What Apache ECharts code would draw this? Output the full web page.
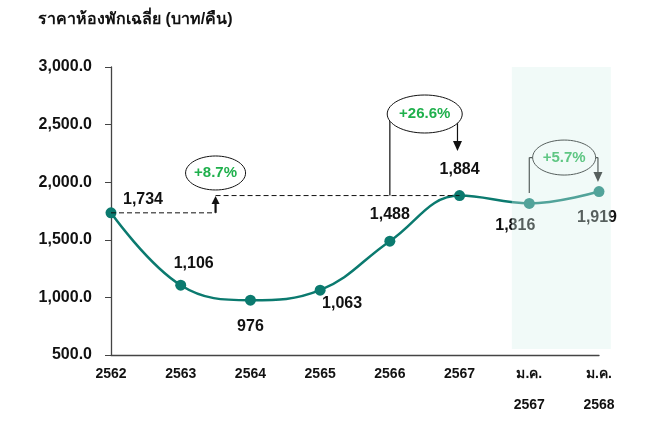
<!DOCTYPE html>
<html>
<head>
<meta charset="utf-8">
<script src="https://cdn.jsdelivr.net/npm/echarts@6/dist/echarts.min.js"></script>
<style>
html,body{margin:0;padding:0;background:#fff;}
#c{width:646px;height:427px;}
</style>
</head>
<body>
<div id="c"></div>
<script>
// ---- data ----
const categories = ['2562', '2563', '2564', '2565', '2566', '2567', 'ม.ค.\n2567', 'ม.ค.\n2568'];
const roomRate = [1734, 1106, 976, 1063, 1488, 1884, 1816, 1919];
const yTicks = [500, 1000, 1500, 2000, 2500, 3000];
const changeLabels = ['+8.7%', '+26.6%', '+5.7%'];
const titleText = 'ราคาห้องพักเฉลี่ย (บาท/คืน)';

// ---- styles ----
const FONT = 'Arial, "Liberation Sans", "Noto Sans", sans-serif';
const TEAL = '#0b7a6f';
const GREEN = '#1fb04c';
const labelPlacement = [
  {position: 'top', offset: [32, 5.5]},
  {position: 'top', offset: [13, -3.5]},
  {position: 'bottom', offset: [0, 7.5]},
  {position: 'bottom', offset: [22, -5.5]},
  {position: 'top', offset: [0, -8.5]},
  {position: 'top', offset: [0, -7.5]},
  {position: 'bottom', offset: [-14, 3.5]},
  {position: 'bottom', offset: [-2, 7.5]}
];

const chart = echarts.init(document.getElementById('c'), null, {renderer: 'canvas'});

const seriesData = roomRate.map((v, i) => ({
  value: v,
  label: Object.assign({show: true}, labelPlacement[i])
}));

chart.setOption({
  animation: false,
  title: {
    text: titleText, left: 33, top: 7,
    textStyle: {fontFamily: FONT, fontSize: 16, fontWeight: 'bold', color: '#111'}
  },
  grid: {left: 111, right: 47, top: 67, bottom: 72},
  xAxis: {
    type: 'category', data: categories, boundaryGap: false,
    axisLine: {lineStyle: {color: '#444', width: 1.3}},
    axisTick: {show: false},
    axisLabel: {fontFamily: FONT, fontSize: 14, fontWeight: 'bold', color: '#111', margin: 4, lineHeight: 31, interval: 0}
  },
  yAxis: {
    type: 'value', min: yTicks[0], max: yTicks[yTicks.length - 1], interval: 500,
    splitLine: {show: false},
    axisLine: {show: true, lineStyle: {color: '#444', width: 1.3}},
    axisTick: {show: true, length: 6, lineStyle: {color: '#444'}},
    axisLabel: {
      fontFamily: FONT, fontSize: 16, fontWeight: 'bold', color: '#111', margin: 19,
      formatter: v => v.toLocaleString('en-US', {minimumFractionDigits: 1, maximumFractionDigits: 1})
    }
  },
  series: [{
    type: 'line', data: seriesData, smooth: 0.4,
    symbol: 'circle', symbolSize: 11,
    lineStyle: {color: TEAL, width: 2.5},
    itemStyle: {color: TEAL},
    label: {
      fontFamily: FONT, fontSize: 16, fontWeight: 'bold', color: '#111', distance: 5,
      formatter: p => p.value.toLocaleString('en-US')
    },
    z: 3
  }]
});

// ---- annotations (positioned via axis scales) ----
function px(idx, val) {
  const i0 = Math.floor(idx), i1 = Math.min(i0 + 1, categories.length - 1);
  const a = chart.convertToPixel({xAxisIndex: 0, yAxisIndex: 0}, [i0, val]);
  const b = chart.convertToPixel({xAxisIndex: 0, yAxisIndex: 0}, [i1, val]);
  const step = (i1 === i0) ? (chart.convertToPixel({xAxisIndex: 0}, 1) - chart.convertToPixel({xAxisIndex: 0}, 0)) : (b[0] - a[0]);
  return [a[0] + (idx - i0) * step, a[1]];
}
function line(p1, p2, color, width, dash, z) {
  return {type: 'line', shape: {x1: p1[0], y1: p1[1], x2: p2[0], y2: p2[1]},
    style: {stroke: color, lineWidth: width, lineDash: dash || null}, z: z || 5, silent: true};
}
function head(tip, dir, color, w, h) { // dir: -1 up, +1 down
  return {type: 'polygon', shape: {points: [[tip[0], tip[1]], [tip[0] - w / 2, tip[1] - dir * h], [tip[0] + w / 2, tip[1] - dir * h]]},
    style: {fill: color}, z: 6, silent: true};
}
function bubble(c, rx, ry, text) {
  return [
    {type: 'ellipse', shape: {cx: c[0], cy: c[1], rx: rx, ry: ry}, style: {fill: '#fff', stroke: '#111', lineWidth: 1}, z: 7, silent: true},
    {type: 'text', x: c[0], y: c[1], style: {text: text, fill: GREEN, font: 'bold 15px ' + FONT, align: 'center', verticalAlign: 'middle'}, z: 8, silent: true}
  ];
}

const g = [];
// +8.7%: 2562 -> 2567
const pA0 = px(0, roomRate[0]);
const arrowX = px(1.5, roomRate[0]);
const arrowTop = px(1.5, roomRate[5]);
const p5 = px(5, roomRate[5]);
g.push(line(pA0, arrowX, '#111', 1, [5, 3]));
g.push(line(arrowTop, p5, '#111', 1, [5, 3]));
g.push(line(arrowX, [arrowTop[0], arrowTop[1] + 7], '#111', 2.2));
g.push(head([arrowTop[0], arrowTop[1] + 0.5], -1, '#111', 8, 8));
g.push(...bubble(px(1.5, 2080), 30, 17, changeLabels[0]));

// +26.6%: 2566 -> 2567
const c2 = px(4.5, 2592);
const l2 = px(4, roomRate[5]);
g.push(line(l2, [l2[0], c2[1]], '#111', 1.2));
const r2x = px(4.97, 0)[0];
const tip2 = px(4.97, 2271);
g.push(line([r2x, c2[1]], [r2x, tip2[1] - 8], '#111', 1.2));
g.push(head(tip2, 1, '#111', 9, 10));
g.push(...bubble(c2, 37.5, 19, changeLabels[1]));

// +5.7%: ม.ค.2567 -> ม.ค.2568
const c3 = px(6.5, 2214);
const l3 = px(6, 1906);
g.push(line(l3, [l3[0], c3[1]], '#111', 1.2));
g.push(line([l3[0], c3[1]], [c3[0], c3[1]], '#111', 1.2));
const tip3 = px(6.985, 2002);
g.push(line([c3[0], c3[1]], [tip3[0], c3[1]], '#111', 1.2));
g.push(line([tip3[0], c3[1]], [tip3[0], tip3[1] - 8], '#111', 1.2));
g.push(head(tip3, 1, '#111', 9, 10));
g.push(...bubble(c3, 31.5, 17.5, changeLabels[2]));

// shaded overlay for monthly comparison
const sTL = px(5.75, yTicks[yTicks.length - 1]);
const sBR = px(7.17, 552);
g.push({type: 'rect', shape: {x: sTL[0], y: sTL[1], width: sBR[0] - sTL[0], height: sBR[1] - sTL[1]},
  style: {fill: 'rgba(215,240,235,0.35)'}, z: 100, silent: true});

chart.setOption({graphic: {elements: g}});
</script>
</body>
</html>
